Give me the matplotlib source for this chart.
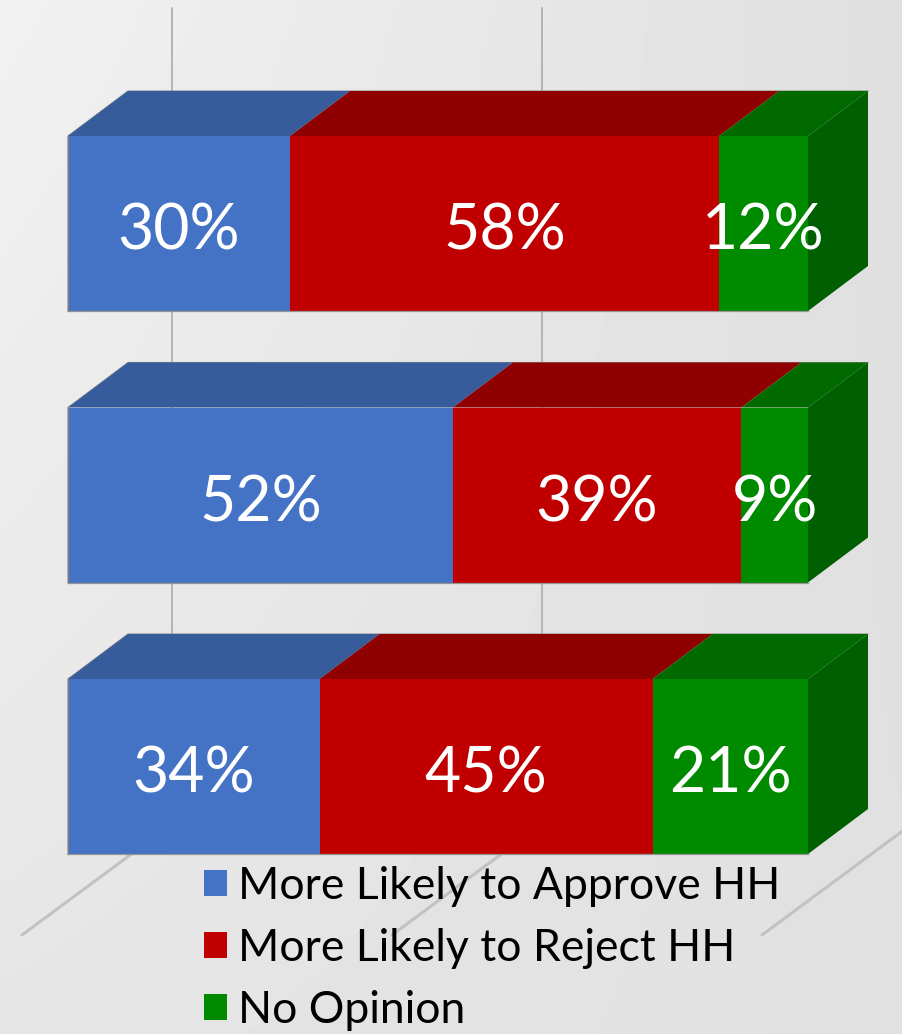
#!/usr/bin/env python
import numpy as np
import matplotlib
matplotlib.use('Agg')
import matplotlib.pyplot as plt

# data
rows = ['Row 1', 'Row 2', 'Row 3']
series_names = ['More Likely to Approve HH', 'More Likely to Reject HH', 'No Opinion']
approve = [30, 52, 34]
reject = [58, 39, 45]
no_opinion = [12, 9, 21]
grid_ticks = [0, 50, 100]

front_colors = ['#4472C4', '#C00000', '#008A00']
top_colors = ['#365C9C', '#8F0000', '#006A00']
side_color = '#005F00'

plt.rcParams['font.family'] = ['Lato', 'DejaVu Sans']

W, H = 902, 1034
fig = plt.figure(figsize=(W / 100, H / 100), dpi=100)
ax = fig.add_axes([0, 0, 1, 1])

# 7.4 px per percent, 271.5 px per row
px_x = 7.4
px_y = 271.5
ax.set_xlim(-68 / px_x, (W - 68) / px_x)
ax.set_ylim((H - 223.5) / px_y, -223.5 / px_y)
ax.axis('off')

# background gradient
yy, xx = np.mgrid[0:1:200j, 0:1:200j]
bg = 0.945 - 0.07 * xx - 0.045 * yy + 0.05 * xx * yy
ax.imshow(bg, cmap='gray', vmin=0, vmax=1, extent=ax.get_xlim() + ax.get_ylim(),
          aspect='auto', zorder=0, interpolation='bilinear')

bar_h = 175 / px_y
dx = 60 / px_x
dy = 45 / px_y

# wall and floor gridlines
wall_dx = 104 / px_x
wall_top = -216 / px_y
floor_back = 2 + bar_h / 2 - 30 / px_y
floor_front = 2 + bar_h / 2 + 81 / px_y
for t in grid_ticks:
    ax.plot([t + wall_dx, t + wall_dx], [wall_top, floor_back], color='#b4b4b4', lw=1.4,
            zorder=1, solid_capstyle='round')
    ax.plot([t + wall_dx, t - 46 / px_x], [floor_back, floor_front], color='#c2c2c2', lw=2.2,
            zorder=1, solid_capstyle='round')

# bars
values = np.array([approve, reject, no_opinion], dtype=float)
y = np.arange(len(rows))
left = np.zeros(len(rows))
for name, vals, fc, tc in zip(series_names, values, front_colors, top_colors):
    ax.barh(y, vals, left=left, height=bar_h, color=fc, edgecolor='none', label=name, zorder=3)
    for yi, l, v in zip(y, left, vals):
        top = yi - bar_h / 2
        ax.fill([l, l + v, l + v + dx, l + dx], [top, top, top - dy, top - dy], color=tc, lw=0, zorder=2.5)
        ax.text(l + v / 2, yi + 8 / px_y, '%d%%' % v, color='white', fontsize=45,
                ha='center', va='center', zorder=5)
    left = left + vals

# right side and outline
for yi, total in zip(y, left):
    top = yi - bar_h / 2
    bot = yi + bar_h / 2
    ax.fill([total, total + dx, total + dx, total], [top, top - dy, bot - dy, bot], color=side_color, lw=0, zorder=2.6)
    ax.plot([0, 0, 0 + dx, total + dx], [bot, top, top - dy, top - dy], color='#8a8a8a', lw=0.8, zorder=2.4)
    ax.plot([0, total], [bot, bot], color='#959595', lw=0.9, zorder=4)
    ax.plot([0, 0], [top, bot], color='#808080', lw=0.9, zorder=4)

ax.legend(loc='upper left', bbox_to_anchor=(195 / W, 1 - 857 / H), frameon=False,
          handlelength=0.52, handleheight=0.52, handletextpad=0.25, labelspacing=0.47,
          borderpad=0.2, borderaxespad=0, prop={'size': 32})

fig.savefig('out.png', dpi=100)
